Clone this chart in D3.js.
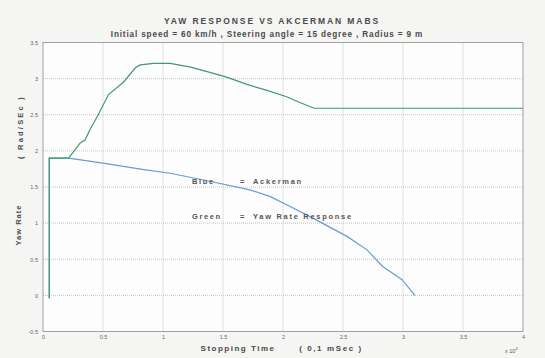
<!DOCTYPE html>
<html><head><meta charset="utf-8">
<script src="https://cdn.jsdelivr.net/npm/d3@7"></script>
<style>
html,body{margin:0;padding:0;background:#f5f5f4;}
svg{display:block;font-family:Arial,"Liberation Sans",sans-serif;}
</style></head>
<body>
<svg id="c" width="545" height="358"></svg>
<script>
const titleText = "YAW RESPONSE VS AKCERMAN MABS";
const subtitleText = "Initial speed = 60 km/h , Steering angle = 15 degree , Radius = 9 m";
const xTicks = [0, 0.5, 1, 1.5, 2, 2.5, 3, 3.5, 4];
const yTicks = [-0.5, 0, 0.5, 1, 1.5, 2, 2.5, 3, 3.5];
const xTickLabels = ["0","0.5","1","1.5","2","2.5","3","3.5","4"];
const yTickLabels = ["-0.5","0","0.5","1","1.5","2","2.5","3","3.5"];

// Green = Yaw Rate Response (x in 10^4 x 0.1 ms, y in rad/s)
const greenX = [0.052,0.052,0.213,0.255,0.31,0.35,0.39,0.46,0.546,0.67,0.77,0.81,0.92,1.06,1.23,1.36,1.53,1.70,1.86,2.03,2.14,2.26,4.0];
const greenY = [-0.04,1.90,1.90,1.99,2.11,2.15,2.29,2.50,2.78,2.95,3.15,3.19,3.21,3.21,3.16,3.10,3.02,2.92,2.84,2.75,2.67,2.59,2.59];
// Blue = Ackerman
const blueX = [0.052,0.052,0.213,0.50,0.84,1.06,1.39,1.725,1.89,2.06,2.225,2.53,2.70,2.83,2.99,3.10];
const blueY = [-0.04,1.90,1.90,1.83,1.74,1.69,1.58,1.46,1.37,1.23,1.09,0.82,0.63,0.40,0.22,0.00];

const svg = d3.select("#c");
const L = 43, R = 523, T = 42.5, B = 331.5;
const x = d3.scaleLinear().domain([0,4]).range([L,R]);
const y = d3.scaleLinear().domain([-0.5,3.5]).range([B,T]);

svg.append("rect").attr("x",L).attr("y",T).attr("width",R-L).attr("height",B-T).attr("fill","#fdfdfd");

// grid
const g = svg.append("g");
g.selectAll(".vx").data(xTicks.slice(1,-1)).join("line")
  .attr("x1",d=>x(d)).attr("x2",d=>x(d)).attr("y1",T).attr("y2",B)
  .attr("stroke","#b8b8b8").attr("stroke-width",0.8).attr("stroke-dasharray","1,1");
g.selectAll(".hy").data(yTicks.slice(1,-1)).join("line")
  .attr("y1",d=>y(d)).attr("y2",d=>y(d)).attr("x1",L).attr("x2",R)
  .attr("stroke","#b8b8b8").attr("stroke-width",0.8).attr("stroke-dasharray","1,1");

// axes
const xAxis = d3.axisBottom(x).tickValues(xTicks).tickFormat((d,i)=>xTickLabels[i]).tickSize(0).tickPadding(4);
const yAxis = d3.axisLeft(y).tickValues(yTicks).tickFormat((d,i)=>yTickLabels[i]).tickSize(0).tickPadding(5);
const ax = svg.append("g").attr("transform",`translate(0,${B})`).call(xAxis);
const ay = svg.append("g").attr("transform",`translate(${L},0)`).call(yAxis);
[ax,ay].forEach(a=>{a.select(".domain").remove();a.selectAll("text").attr("font-size",5.5).attr("fill","#666");});

svg.append("rect").attr("x",L).attr("y",T).attr("width",R-L).attr("height",B-T)
  .attr("fill","none").attr("stroke","#8a8a8a").attr("stroke-width",0.8);

// lines
const line = d3.line().x(d=>x(d[0])).y(d=>y(d[1]));
svg.append("path").datum(blueX.map((v,i)=>[v,blueY[i]])).attr("d",line)
  .attr("fill","none").attr("stroke","#6a9ad8").attr("stroke-width",1.2);
svg.append("path").datum(greenX.map((v,i)=>[v,greenY[i]])).attr("d",line)
  .attr("fill","none").attr("stroke","#3f9a70").attr("stroke-width",1.2);

// titles
const tc = "#4a4a4a";
svg.append("text").attr("x",272).attr("y",24).attr("text-anchor","middle")
  .attr("font-size",8.5).attr("font-weight","bold").attr("letter-spacing",1.9).attr("fill",tc).text(titleText);
svg.append("text").attr("x",267).attr("y",37).attr("text-anchor","middle")
  .attr("font-size",8.2).attr("font-weight","bold").attr("letter-spacing",0.85).attr("fill",tc).text(subtitleText);

// axis labels
svg.append("text").attr("x",238).attr("y",351).attr("text-anchor","middle")
  .attr("font-size",8).attr("font-weight","bold").attr("letter-spacing",1.5).attr("fill",tc).text("Stopping Time");
svg.append("text").attr("x",331).attr("y",351).attr("text-anchor","middle")
  .attr("font-size",8).attr("font-weight","bold").attr("letter-spacing",1.6).attr("fill",tc).text("( 0,1 mSec )");
const xm = svg.append("text").attr("x",505).attr("y",353).attr("font-size",5.5).attr("fill","#555");
xm.append("tspan").text("x 10");
xm.append("tspan").attr("dy",-3).attr("font-size",4).text("4");

svg.append("text").attr("transform","translate(21,225) rotate(-90)").attr("text-anchor","middle")
  .attr("font-size",7.5).attr("font-weight","bold").attr("letter-spacing",1).attr("fill",tc).text("Yaw Rate");
svg.append("text").attr("transform","translate(23,127) rotate(-90)").attr("text-anchor","middle")
  .attr("font-size",7.5).attr("font-weight","bold").attr("letter-spacing",2.2).attr("fill",tc).text("( Rad/SEc )");

// legend text
const leg = [["Blue","Ackerman",184],["Green","Yaw Rate Response",219]];
leg.forEach(([a,b,yy])=>{
  svg.append("text").attr("x",192).attr("y",yy).attr("font-size",7.5).attr("font-weight","bold").attr("letter-spacing",1.6).attr("fill","#555").text(a);
  svg.append("text").attr("x",240).attr("y",yy).attr("font-size",7.5).attr("font-weight","bold").attr("fill","#555").text("=");
  svg.append("text").attr("x",253).attr("y",yy).attr("font-size",7.5).attr("font-weight","bold").attr("letter-spacing",1.7).attr("fill","#555").text(b);
});
</script>
</body></html>
